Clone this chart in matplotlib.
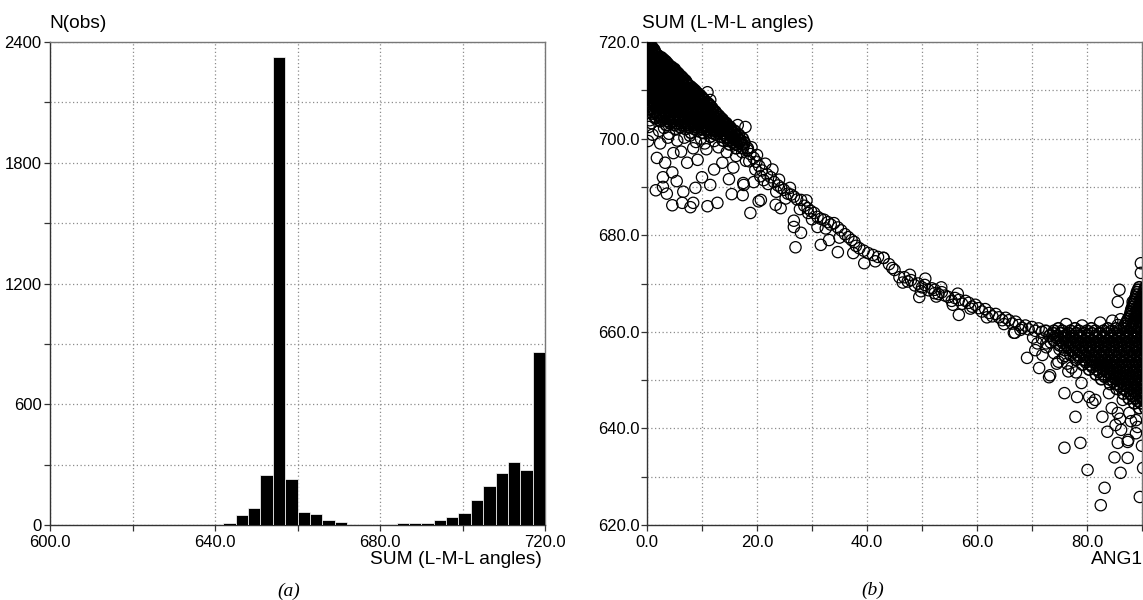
import matplotlib
matplotlib.use("Agg")
import matplotlib.pyplot as plt

plt.rcParams['font.family'] = ['Liberation Sans', 'DejaVu Sans']

# ---- panel (a): histogram of SUM (L-M-L angles), 3 degree bins from 600 to 720
bin_left = [600, 603, 606, 609, 612, 615, 618, 621, 624, 627, 630, 633, 636, 639,
            642, 645, 648, 651, 654, 657, 660, 663, 666, 669, 672, 675, 678, 681,
            684, 687, 690, 693, 696, 699, 702, 705, 708, 711, 714, 717]
n_obs = [0, 0, 0, 0, 0, 0, 0, 0, 0, 0, 0, 0, 0, 0,
         8, 50, 86, 247, 2325, 227, 65, 55, 25, 13, 0, 5, 0, 5,
         8, 8, 8, 23, 40, 60, 124, 195, 260, 311, 272, 860]

hist_xticks = [600, 620, 640, 660, 680, 700, 720]
hist_xlabels = ["600.0", "", "640.0", "", "680.0", "", "720.0"]
hist_yticks = [0, 300, 600, 900, 1200, 1500, 1800, 2100, 2400]
hist_ylabels = ["0", "", "600", "", "1200", "", "1800", "", "2400"]

# ---- panel (b): SUM vs ANG1, read off the picture region by region
# dense wedge near ANG1 = 0 (rows of equal SUM)
wedge_rows = [
    (719.5, [0.1, 0.4]),
    (719.1, [0.3, 0.8]),
    (718.8, [0.0, 0.5, 1.0]),
    (718.4, [0.3, 0.9, 1.3]),
    (718.0, [0.1, 0.7, 1.4]),
    (717.6, [0.3, 1.0, 1.6]),
    (717.2, [0.0, 0.6, 1.2, 2.0]),
    (716.8, [0.4, 1.0, 1.9, 2.6]),
    (716.4, [0.2, 0.9, 1.6, 2.5, 3.0]),
    (716.0, [0.5, 1.2, 2.0, 2.8, 3.4]),
    (715.6, [0.0, 0.7, 1.4, 2.2, 2.9, 3.7]),
    (715.2, [0.3, 1.1, 1.9, 2.7, 3.5, 4.0]),
    (714.8, [0.3, 1.0, 1.8, 2.6, 3.4, 4.2, 4.5]),
    (714.4, [0.5, 1.3, 2.1, 3.0, 3.8, 4.6, 5.0]),
    (714.0, [0.0, 0.8, 1.6, 2.4, 3.2, 4.0, 4.8, 5.2]),
    (713.6, [0.4, 1.2, 2.0, 2.9, 3.7, 4.5, 5.4, 5.6]),
    (713.2, [0.2, 1.1, 1.9, 2.8, 3.6, 4.4, 5.2, 5.9]),
    (712.8, [0.6, 1.4, 2.3, 3.1, 4.0, 4.8, 5.6, 6.3]),
    (712.4, [0.0, 0.8, 1.6, 2.5, 3.3, 4.1, 5.0, 5.8, 6.6]),
    (712.0, [0.4, 1.2, 2.1, 2.9, 3.8, 4.6, 5.5, 6.3, 7.0]),
    (711.6, [0.3, 1.1, 2.0, 2.9, 3.7, 4.6, 5.4, 6.3, 7.2]),
    (711.2, [0.5, 1.4, 2.2, 3.1, 4.0, 4.8, 5.7, 6.6, 7.4]),
    (710.8, [0.0, 0.8, 1.7, 2.5, 3.4, 4.3, 5.1, 6.0, 6.9, 7.9]),
    (710.4, [0.5, 1.4, 2.3, 3.2, 4.1, 5.0, 5.9, 6.8, 7.6, 8.3]),
    (710.0, [0.2, 1.2, 2.1, 3.0, 3.8, 4.7, 5.6, 6.5, 7.3, 8.2, 8.7]),
    (709.6, [0.6, 1.5, 2.4, 3.3, 4.2, 5.1, 6.0, 6.9, 7.8, 8.6, 9.0]),
    (709.2, [0.0, 0.9, 1.8, 2.7, 3.6, 4.4, 5.3, 6.2, 7.1, 8.0, 8.8, 9.4]),
    (708.8, [0.5, 1.4, 2.3, 3.2, 4.1, 5.0, 5.9, 6.8, 7.7, 8.6, 9.4, 9.8]),
    (708.4, [0.3, 1.3, 2.2, 3.1, 4.0, 4.9, 5.8, 6.7, 7.6, 8.5, 9.3, 10.1]),
    (708.0, [0.6, 1.6, 2.5, 3.4, 4.3, 5.2, 6.1, 7.0, 7.9, 8.8, 9.6, 10.4]),
    (707.6, [0.1, 1.0, 1.9, 2.8, 3.7, 4.6, 5.5, 6.4, 7.3, 8.2, 9.1, 10.0, 10.8]),
    (707.2, [0.5, 1.5, 2.4, 3.3, 4.2, 5.1, 6.0, 6.9, 7.8, 8.7, 9.6, 10.4, 11.2]),
    (706.8, [0.2, 1.4, 2.4, 3.3, 4.2, 5.1, 6.0, 6.9, 7.8, 8.7, 9.6, 10.5, 11.5]),
    (706.4, [0.9, 2.0, 3.0, 3.9, 4.8, 5.7, 6.6, 7.5, 8.4, 9.3, 10.2, 11.1, 11.8]),
    (706.0, [0.6, 1.8, 2.9, 3.8, 4.7, 5.6, 6.5, 7.4, 8.3, 9.2, 10.1, 11.0, 12.0]),
    (705.6, [1.3, 2.5, 3.5, 4.4, 5.3, 6.2, 7.1, 8.0, 8.9, 9.8, 10.7, 11.6, 12.4]),
    (705.2, [1.0, 2.3, 3.4, 4.4, 5.3, 6.2, 7.1, 8.0, 8.9, 9.8, 10.7, 11.6, 12.6]),
    (704.8, [2.0, 3.1, 4.1, 5.0, 5.9, 6.8, 7.7, 8.6, 9.5, 10.4, 11.3, 12.2, 13.0]),
    (704.4, [1.6, 3.0, 4.1, 5.0, 5.9, 6.8, 7.7, 8.6, 9.5, 10.4, 11.3, 12.2, 13.3]),
    (704.0, [2.8, 3.9, 4.9, 5.8, 6.7, 7.6, 8.5, 9.4, 10.3, 11.2, 12.1, 13.0, 13.7]),
    (703.6, [2.4, 3.8, 4.9, 5.9, 6.8, 7.7, 8.6, 9.5, 10.4, 11.3, 12.2, 13.1, 13.9]),
    (703.2, [4.2, 5.4, 6.5, 7.5, 8.5, 9.4, 10.3, 11.2, 12.1, 13.0, 13.8, 14.4]),
    (702.8, [3.5, 5.0, 6.3, 7.4, 8.5, 9.5, 10.4, 11.3, 12.2, 13.1, 14.0, 14.6]),
    (702.4, [6.0, 7.6, 8.9, 10.0, 11.0, 12.0, 12.9, 13.8, 14.6, 15.1]),
    (702.0, [5.2, 7.0, 8.6, 9.9, 11.0, 12.0, 12.9, 13.8, 14.7, 15.3]),
    (701.6, [9.2, 10.9, 12.3, 13.4, 14.4, 15.3, 15.9]),
    (701.2, [8.0, 10.2, 11.8, 13.0, 14.0, 14.9, 15.8]),
    (700.8, [12.6, 14.0, 15.1, 16.0, 16.7]),
    (700.4, [11.5, 13.4, 14.6, 15.6, 16.4]),
    (700.0, [14.6, 15.7, 16.6, 17.4]),
    (699.6, [13.8, 15.2, 16.2, 17.0]),
    (699.2, [15.8, 16.8, 17.7]),
    (698.8, [15.0, 16.3, 17.3]),
    (698.0, [16.2, 17.4, 18.3]),
]

# dense cluster around ANG1 = 73..91
cluster_rows = [
    (669.2, [89.5, 90.6]),
    (668.7, [89.3, 90.5]),
    (668.2, [89.1, 90.3]),
    (667.7, [89.0, 90.2]),
    (667.2, [88.9, 90.0]),
    (666.7, [88.7, 89.9]),
    (666.2, [88.6, 89.8]),
    (665.7, [88.4, 89.6, 90.8]),
    (665.2, [88.3, 89.5, 90.7]),
    (664.7, [88.1, 89.3, 90.5]),
    (664.2, [88.0, 89.2, 90.4]),
    (663.7, [87.9, 89.1, 90.3]),
    (663.2, [87.8, 89.0, 90.2]),
    (662.7, [87.5, 88.7, 89.9]),
    (662.2, [87.3, 88.5, 89.8]),
    (661.7, [87.0, 88.3, 89.6, 90.8]),
    (661.2, [86.8, 88.2, 89.5, 90.8]),
    (660.7, [74.8, 77.8, 80.8, 83.8, 85.3, 86.7, 88.0, 89.3, 90.6]),
    (660.2, [72.5, 74.0, 75.5, 77.0, 78.5, 80.0, 81.5, 83.0, 84.5, 86.0, 87.5, 89.0, 90.5]),
    (659.7, [73.9, 75.3, 76.7, 78.1, 79.5, 80.9, 82.3, 83.7, 85.1, 86.5, 87.9, 89.3, 90.7]),
    (659.2, [73.2, 74.6, 76.0, 77.4, 78.8, 80.2, 81.6, 83.0, 84.4, 85.8, 87.2, 88.6, 90.0]),
    (658.7, [74.6, 76.0, 77.4, 78.8, 80.2, 81.6, 83.0, 84.4, 85.8, 87.2, 88.6, 90.0]),
    (658.2, [74.0, 75.3, 76.7, 78.1, 79.5, 80.9, 82.3, 83.7, 85.1, 86.5, 87.9, 89.3, 90.7]),
    (657.7, [75.6, 76.9, 78.3, 79.7, 81.1, 82.5, 83.9, 85.3, 86.7, 88.1, 89.5, 90.8]),
    (657.2, [75.0, 76.3, 77.6, 79.0, 80.4, 81.8, 83.2, 84.6, 86.0, 87.4, 88.8, 90.2]),
    (656.7, [76.6, 77.9, 79.2, 80.6, 82.0, 83.4, 84.8, 86.2, 87.6, 89.0, 90.3]),
    (656.2, [76.0, 77.3, 78.6, 79.9, 81.2, 82.6, 84.0, 85.4, 86.8, 88.2, 89.6, 90.8]),
    (655.7, [77.6, 78.9, 80.2, 81.6, 83.0, 84.4, 85.8, 87.2, 88.6, 89.9]),
    (655.2, [77.0, 78.4, 79.7, 81.0, 82.3, 83.6, 85.0, 86.4, 87.8, 89.2, 90.5]),
    (654.7, [78.6, 80.0, 81.4, 82.7, 84.0, 85.3, 86.6, 87.9, 89.2, 90.5]),
    (654.2, [78.0, 79.5, 80.8, 82.0, 83.3, 84.6, 85.9, 87.2, 88.5, 89.8]),
    (653.7, [79.8, 81.2, 82.5, 83.7, 85.0, 86.3, 87.6, 88.9, 90.2]),
    (653.2, [79.2, 80.6, 81.9, 83.1, 84.3, 85.6, 86.9, 88.2, 89.5, 90.8]),
    (652.7, [81.0, 82.4, 83.6, 84.8, 86.0, 87.3, 88.6, 89.9]),
    (652.2, [80.4, 81.8, 83.0, 84.2, 85.4, 86.6, 87.9, 89.2, 90.5]),
    (651.7, [82.2, 83.6, 84.8, 86.0, 87.2, 88.4, 89.6, 90.8]),
    (651.2, [81.6, 83.0, 84.2, 85.4, 86.6, 87.8, 89.0, 90.2]),
    (650.7, [83.2, 84.6, 85.9, 87.1, 88.3, 89.5, 90.7]),
    (650.2, [82.6, 84.0, 85.3, 86.5, 87.7, 88.9, 90.1]),
    (649.7, [84.8, 86.2, 87.4, 88.6, 89.8]),
    (649.2, [84.2, 85.5, 86.8, 88.0, 89.2, 90.4]),
    (648.7, [86.0, 87.3, 88.6, 89.8]),
    (648.2, [85.4, 86.7, 88.0, 89.2, 90.4]),
    (647.7, [87.2, 88.5, 89.7]),
    (647.2, [86.6, 87.9, 89.1, 90.3]),
    (646.7, [88.2, 89.5, 90.7]),
    (646.2, [87.6, 88.9, 90.1]),
    (645.7, [89.2, 90.4]),
    (645.2, [88.6, 89.8, 90.9]),
    (644.2, [89.5, 90.6]),
]

# the curve between the two dense parts
band_ang1 = [17.0, 17.6, 18.3, 18.8, 19.4, 19.9, 20.4, 20.9, 21.2, 21.8, 22.5, 23.1, 23.8,
             24.4, 24.9, 25.6, 26.2, 26.7, 27.3, 28.0, 28.6, 29.2, 29.8, 30.4, 31.0, 31.6,
             32.2, 32.9, 33.4, 34.0, 34.7, 35.3, 36.0, 36.6, 37.2, 37.7, 38.6, 39.4, 40.2,
             41.1, 42.0, 43.0, 44.0, 45.0, 45.9, 19.0, 20.0, 21.5, 18.0, 22.8,
             17.3, 18.6, 19.7, 20.6, 22.0, 23.5, 25.2, 27.8, 30.0, 32.5, 35.0, 38.0, 41.5,
             44.6, 24.0, 26.0, 29.0,
             46.8, 47.4, 48.0, 48.7, 49.3, 50.0, 50.5, 51.2, 51.8, 52.3, 53.0, 53.6, 54.2,
             54.8, 55.4, 56.0, 56.7, 57.3, 57.9, 58.5, 59.1, 59.7, 60.3, 60.9, 61.5, 62.2,
             62.8, 63.4, 64.0, 64.6, 65.2, 65.8, 66.4, 67.0, 67.6, 68.2, 68.8, 69.4, 70.0,
             70.6, 71.2, 71.8, 52.6, 55.6, 58.8, 61.8, 64.9, 67.9, 49.8, 46.5, 47.8, 50.6,
             53.5, 56.5,
             70.2, 71.0, 71.8, 72.6, 73.4, 74.0, 75.0, 75.6, 76.4, 77.2, 78.0, 74.8, 76.0]
band_sum = [699.7, 698.6, 697.6, 696.8, 696.0, 695.2, 694.3, 693.4, 691.4, 692.6, 692.0, 691.0, 690.3,
            689.8, 689.4, 688.6, 688.4, 688.0, 687.4, 687.3, 686.1, 685.6, 685.0, 684.6, 683.8, 683.4,
            683.2, 682.7, 682.2, 682.5, 681.6, 681.0, 680.2, 679.6, 679.0, 678.6, 677.3, 676.8, 676.3,
            675.9, 675.5, 675.3, 674.0, 672.8, 671.3, 698.2, 696.6, 694.8, 695.4, 693.6,
            697.2, 695.3, 693.6, 692.2, 690.6, 689.0, 687.6, 685.4, 683.3, 681.4, 679.5, 677.8, 674.6,
            673.2, 691.5, 689.8, 687.2,
            671.3, 670.4, 670.7, 669.6, 670.0, 669.2, 669.7, 668.6, 669.0, 668.7, 667.8, 668.2, 667.5,
            667.2, 666.4, 667.0, 666.6, 665.8, 666.4, 666.0, 665.2, 665.6, 664.9, 664.2, 664.7, 663.9,
            663.2, 663.7, 663.0, 662.4, 662.9, 662.4, 661.7, 662.1, 661.4, 660.8, 661.3, 660.5, 661.0,
            660.2, 660.7, 660.0, 667.3, 665.6, 664.8, 663.0, 661.6, 660.4, 668.4, 670.2, 671.8, 671.0,
            669.2, 667.9,
            658.8, 657.6, 658.6, 656.8, 657.8, 655.6, 656.4, 654.6, 653.4, 652.6, 651.6, 653.8, 655.0]

# scattered points away from the main trend
loose_ang1 = [0.0, 0.3, 2.4, 1.8, 3.3, 2.9, 4.6, 2.9, 6.6, 6.4, 8.4, 10.0, 11.5, 12.8, 13.7,
              8.4, 11.0, 17.5, 20.3, 15.7, 16.5, 17.9, 11.0, 11.5, 7.3, 4.8, 0.5, 1.0, 0.2,
              1.5, 3.8, 5.5, 6.2, 9.2, 10.8, 12.2, 14.5, 9.8, 7.8, 1.6, 4.6, 7.9, 3.6, 5.4,
              8.8, 12.2, 14.9, 16.2, 0.0,
              0.8, 2.2, 3.1, 4.0, 6.8, 8.9, 10.5, 13.0, 0.3,
              17.6, 17.4, 18.8, 20.7, 23.4, 24.3, 26.7, 26.7, 28.0, 27.0, 31.6, 33.1, 34.7,
              37.5, 39.5, 29.3, 31.0, 19.4, 15.4,
              43.0, 49.5, 56.7, 66.9, 52.3, 66.7, 69.1, 71.3, 70.6, 73.3, 75.9, 78.2, 81.0,
              77.9, 82.8, 83.7, 85.2, 85.6, 87.4, 88.9, 85.0, 87.4, 75.9, 78.8, 80.1, 86.1,
              83.2, 82.5, 89.6, 85.9, 85.6, 85.6, 89.8, 89.8, 88.3, 73.1, 80.4, 81.5, 84.0,
              86.5, 87.7, 89.2, 71.9, 74.5, 72.6, 76.6, 79.0, 84.5, 86.0, 88.0, 90.0, 90.2,
              85.6, 86.2, 87.5, 88.9,
              76.2, 79.1, 82.4, 84.6, 86.1]
loose_sum = [705.3, 702.4, 699.0, 696.0, 695.0, 692.0, 693.0, 690.0, 689.0, 686.7, 698.0, 692.0, 690.4, 686.7, 695.0,
             686.7, 686.0, 690.8, 687.0, 694.0, 702.8, 702.4, 709.6, 708.0, 695.0, 697.0, 703.8, 700.8, 699.5,
             704.2, 700.2, 699.6, 697.3, 695.6, 697.8, 699.5, 697.2, 700.0, 700.6, 689.3, 686.2, 685.8, 688.6, 691.2,
             689.8, 693.6, 691.6, 696.4, 708.6,
             703.2, 701.6, 702.2, 701.0, 700.2, 699.3, 699.0, 698.2, 706.8,
             690.4, 688.3, 684.6, 687.3, 686.3, 685.6, 683.0, 681.7, 680.5, 677.5, 678.0, 679.0, 676.5,
             676.3, 674.2, 684.6, 681.7, 691.0, 688.5,
             675.3, 667.2, 663.5, 659.8, 668.0, 659.8, 654.6, 652.5, 656.2, 651.0, 647.3, 646.5, 645.3,
             642.4, 642.4, 639.3, 640.7, 637.0, 637.2, 639.0, 634.0, 633.9, 636.0, 637.0, 631.4, 630.8,
             627.7, 624.1, 625.8, 668.7, 666.2, 661.4, 674.2, 672.2, 666.2, 650.6, 646.5, 645.9, 647.3,
             645.9, 643.2, 640.3, 655.2, 653.4, 657.6, 651.8, 649.4, 644.2, 642.0, 641.5, 636.4, 631.8,
             643.2, 639.7, 637.6, 641.7,
             661.6, 661.3, 661.9, 662.3, 662.6]

sc_xticks = [0, 10, 20, 30, 40, 50, 60, 70, 80, 90]
sc_xlabels = ["0.0", "", "20.0", "", "40.0", "", "60.0", "", "80.0", ""]
sc_yticks = [620, 630, 640, 650, 660, 670, 680, 690, 700, 710, 720]
sc_ylabels = ["620.0", "", "640.0", "", "660.0", "", "680.0", "", "700.0", "", "720.0"]

# flatten the row tables into point lists
dense_x = []
dense_y = []
for s, xs in wedge_rows + cluster_rows:
    dense_x += xs
    dense_y += [s] * len(xs)

W, H = 1143, 600
fig = plt.figure(figsize=(W / 100, H / 100), dpi=100)


def style_axes(ax):
    ax.grid(True, linestyle=(0, (1, 2)), color='#8c8c8c', linewidth=0.9)
    ax.set_axisbelow(True)
    for side in ['left', 'bottom']:
        ax.spines[side].set_color('#333333')
        ax.spines[side].set_linewidth(1.0)
    for side in ['top', 'right']:
        ax.spines[side].set_color('#777777')
        ax.spines[side].set_linewidth(1.0)
    ax.tick_params(direction='out', length=4, width=0.9, color='#333333',
                   labelsize=12, pad=2)


# histogram panel
ax1 = fig.add_axes([50 / W, (H - 525) / H, 495 / W, 483 / H])
ax1.bar(bin_left, n_obs, width=3, align='edge', color='black',
        edgecolor='white', linewidth=0.5, zorder=3)
ax1.set_xlim(600, 720)
ax1.set_ylim(0, 2400)
ax1.set_xticks(hist_xticks)
ax1.set_xticklabels(hist_xlabels)
ax1.set_yticks(hist_yticks)
ax1.set_yticklabels(hist_ylabels)
style_axes(ax1)
ax1.tick_params(axis='x', pad=3)

fig.text(49 / W, 1 - 24 / H, "N(obs)", ha='left', va='center', fontsize=13.8)
fig.text(542 / W, 1 - 560 / H, "SUM (L-M-L angles)", ha='right', va='center', fontsize=13.8)
fig.text(289 / W, 1 - 591 / H, "(a)", ha='center', va='center', fontsize=14,
         family='Liberation Serif', style='italic')

# scatter panel (right edge sits on the picture border)
ax2 = fig.add_axes([647 / W, (H - 525) / H, 495 / W, 483 / H])
ax2.scatter(dense_x, dense_y, s=66, facecolors='none', edgecolors='black',
            linewidths=1.2, zorder=3)
ax2.scatter(band_ang1 + loose_ang1, band_sum + loose_sum, s=66, facecolors='none',
            edgecolors='black', linewidths=0.9, zorder=3)
ax2.set_xlim(0, 90)
ax2.set_ylim(620, 720)
ax2.set_xticks(sc_xticks)
ax2.set_xticklabels(sc_xlabels)
ax2.set_yticks(sc_yticks)
ax2.set_yticklabels(sc_ylabels)
style_axes(ax2)
ax2.tick_params(axis='y', pad=1)
ax2.tick_params(axis='x', pad=3)

fig.text(642 / W, 1 - 24 / H, "SUM (L-M-L angles)", ha='left', va='center', fontsize=13.8)
fig.text(1143 / W, 1 - 560 / H, "ANG1", ha='right', va='center', fontsize=13.8)
fig.text(873 / W, 1 - 590 / H, "(b)", ha='center', va='center', fontsize=14,
         family='Liberation Serif', style='italic')

fig.savefig("out.png", dpi=100)
